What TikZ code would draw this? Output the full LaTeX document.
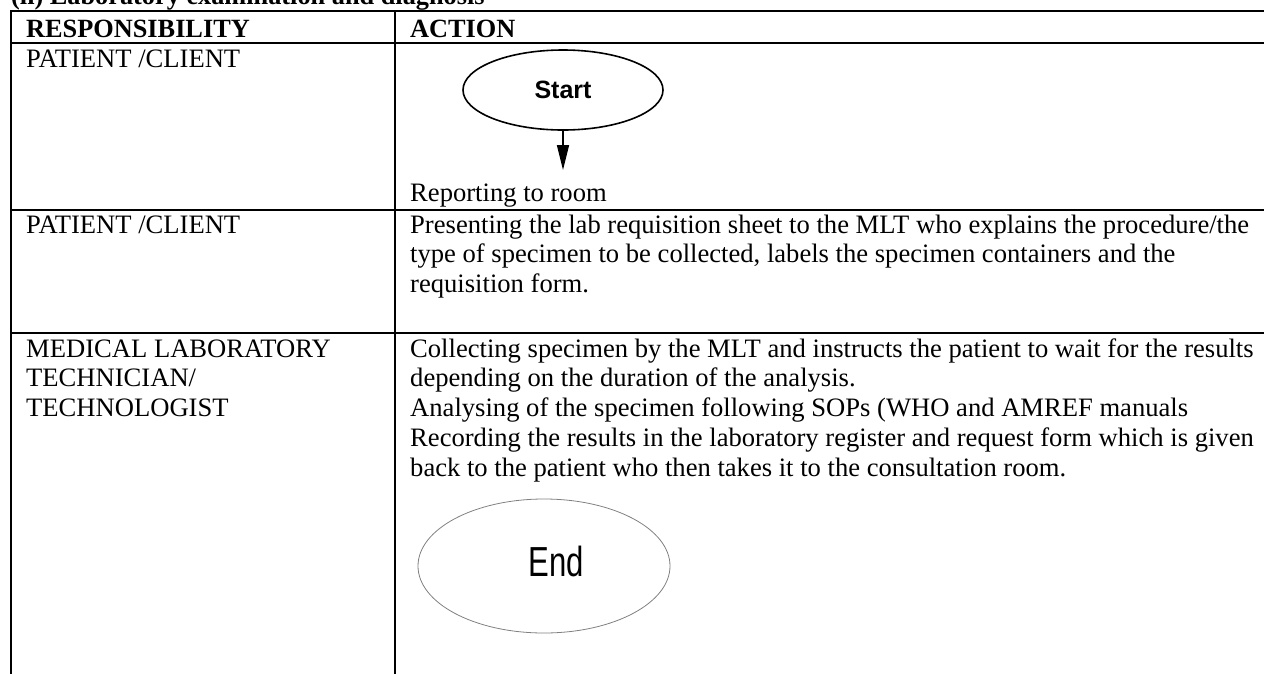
\documentclass[tikz,border=0pt]{standalone}
\usepackage{fontspec}
\usepackage{graphicx}
\setmainfont{Liberation Serif}
\newfontfamily\flowfont{Liberation Sans}
\usetikzlibrary{shapes.geometric,arrows.meta}

\begin{document}
\begin{tikzpicture}[x=1pt,y=-1pt,
  rule/.style={line width=1.8pt, line cap=rect},
  bodyfont/.style={font=\fontsize{26.6}{29.7}\selectfont},
  linetext/.style={bodyfont, anchor=base west, inner sep=0pt},
  celltext/.style={bodyfont, anchor=north west, inner sep=0pt, align=left},
  headtext/.style={anchor=base west, inner sep=0pt, font=\fontsize{26.3}{29.7}\selectfont\bfseries},
  terminal/.style={ellipse, draw, inner sep=0pt},
  flow/.style={line width=1.6pt, -{Triangle[length=25pt,width=12pt]}}
]
\useasboundingbox (0,0) rectangle (1264,673);
\clip (0,0) rectangle (1264,673);

% title, partly above the page edge
\node[headtext] (title) at (11,4) {(ii) Laboratory examination and diagnosis};

% table rules
\draw[rule] (11,11) -- (1270,11);
\draw[rule] (11,43) -- (1270,43);
\draw[rule] (11,210) -- (1270,210);
\draw[rule] (11,333) -- (1270,333);
\draw[rule] (11,11) -- (11,680);
\draw[rule] (395,11) -- (395,680);

% header row
\node[headtext] (hresp) at (26,37) {RESPONSIBILITY};
\node[headtext] (haction) at (410,37) {ACTION};

% responsibility column
\node[linetext] (resp1) at (26,67) {PATIENT /CLIENT};
\node[linetext] (resp2) at (26,233) {PATIENT /CLIENT};
\node[celltext] (resp3) at (26,357-20.79) {\strut MEDICAL LABORATORY\\TECHNICIAN/\\TECHNOLOGIST};

% action column, row 1: start terminal
\node[terminal, line width=1.6pt, minimum width=200pt, minimum height=80pt] (start) at (563,90)
  {\flowfont\bfseries\fontsize{25}{25}\selectfont Start};
\coordinate (tip) at (563,170);
\draw[flow] (start.south) -- (tip);
\node[linetext] (report) at (410,201) {Reporting to room};

% action column, row 2
\node[celltext] (act2) at (410,233-20.79) {\strut Presenting the lab requisition sheet to the MLT who explains the procedure/the\\
type of specimen to be collected, labels the specimen containers and the\\
requisition form.};

% action column, row 3
\node[celltext] (act3) at (410,357-20.79) {\strut Collecting specimen by the MLT and instructs the patient to wait for the results\\
depending on the duration of the analysis.\\
Analysing of the specimen following SOPs (WHO and AMREF manuals\\
Recording the results in the laboratory register and request form which is given\\
back to the patient who then takes it to the consultation room.};

% end terminal
\node[terminal, draw=gray, line width=0.8pt, minimum width=252pt, minimum height=134pt] (finish) at (544,566) {};
\node[inner sep=0pt] (endlabel) at (556,561)
  {\scalebox{0.74}[1]{\flowfont\fontsize{42}{42}\selectfont End}};
\end{tikzpicture}
\end{document}
